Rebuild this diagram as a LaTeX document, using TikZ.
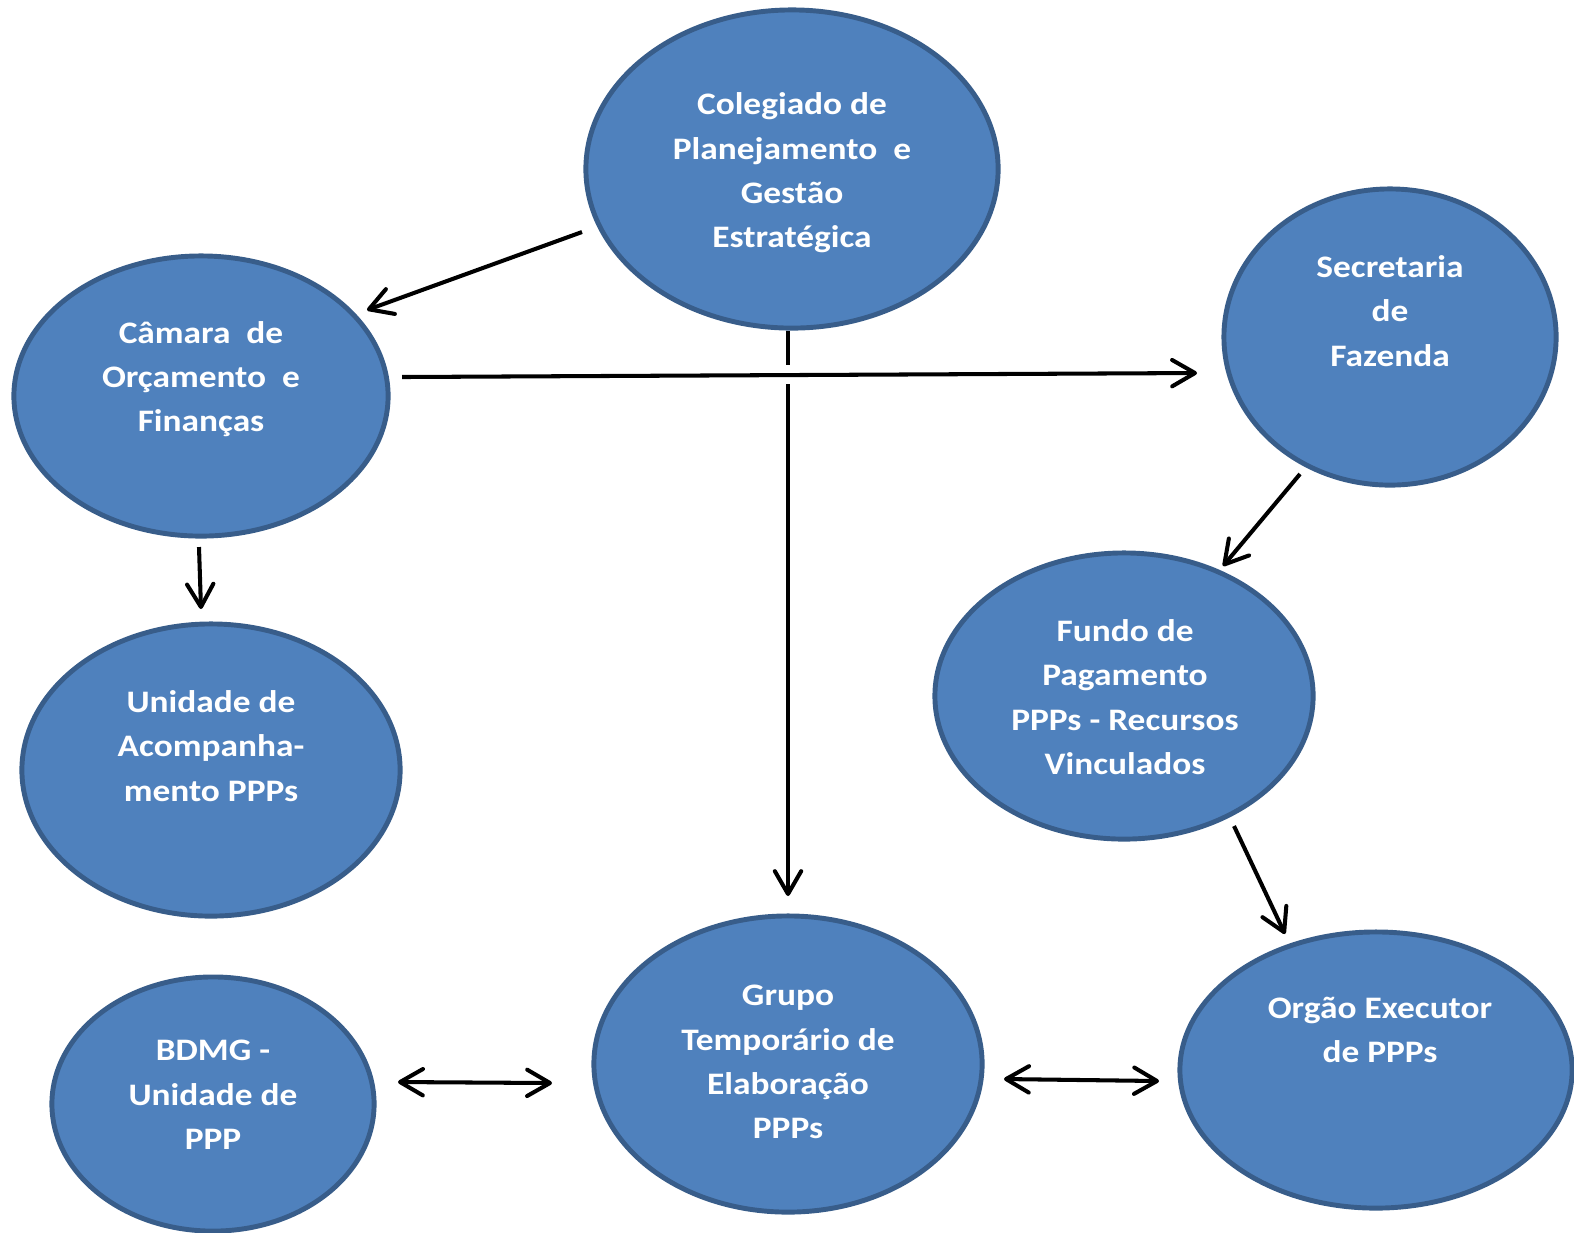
\documentclass[tikz,border=0pt]{standalone}
\usepackage{fontspec}
\setmainfont{Carlito}[FakeStretch=1.13]
\usetikzlibrary{calc,positioning,shapes.geometric,arrows.meta}
\definecolor{ovalfill}{HTML}{4F81BD}
\definecolor{ovaledge}{HTML}{385D8A}

\begin{document}
\begin{tikzpicture}[x=0.01cm, y=-0.01cm,
  oval/.style={ellipse,draw=ovaledge,fill=ovalfill,line width=1.4pt,inner sep=0pt},
  txt/.style={text=white,font=\fontsize{8.9}{12.6}\selectfont\bfseries,align=center,inner sep=0pt},
  barb/.tip={Straight Barb[length=6.5pt,width=7.5pt,round]},
  arr/.style={line width=1.15pt,-barb},
  dbl/.style={line width=1.15pt,barb-barb}]
\useasboundingbox (0,0) rectangle (1574,1232);

% ovals
\node[oval,minimum width=4.12cm,minimum height=3.18cm] (col) at (792,169) {};
\node[oval,minimum width=3.74cm,minimum height=2.80cm] (cam) at (201,396) {};
\node[oval,minimum width=3.32cm,minimum height=2.96cm] (sec) at (1390,337) {};
\node[oval,minimum width=3.78cm,minimum height=2.92cm] (uni) at (211,770) {};
\node[oval,minimum width=3.78cm,minimum height=2.86cm] (fun) at (1124,696) {};
\node[oval,minimum width=3.88cm,minimum height=2.96cm] (gru) at (788,1064) {};
\node[oval,minimum width=3.22cm,minimum height=2.54cm] (bdm) at (213,1104) {};
\node[oval,minimum width=3.92cm,minimum height=2.76cm] (org) at (1376,1070) {};

% texts
\node[txt] (coltxt) at ($(col)+(0,4)$) {Colegiado de\\Planejamento\ \ e\\Gestão\\Estratégica};
\node[txt] (camtxt) at ($(cam)+(0,-17)$) {Câmara\ \ de\\Orçamento\ \ e\\Finanças};
\node[txt] (sectxt) at ($(sec)+(0,-26)$) {Secretaria\\de\\Fazenda};
\node[txt] (unitxt) at ($(uni)+(0,-24)$) {Unidade de\\Acompanha-\\mento PPPs};
\node[txt] (funtxt) at ($(fun)+(1,1)$) {Fundo de\\Pagamento\\PPPs - Recursos\\Vinculados};
\node[txt] (grutxt) at ($(gru)+(0,-2)$) {Grupo\\Temporário de\\Elaboração\\PPPs};
\node[txt] (bdmtxt) at ($(bdm)+(0,-9)$) {BDMG -\\Unidade de\\PPP};
\node[txt] (orgtxt) at ($(org)+(4,-40)$) {Orgão Executor\\de PPPs};

% connectors
\draw[arr] ($(col)+(-210,63)$) -- ($(cam)+(166,-86)$);
\draw[arr] ($(cam)+(201,-19)$) -- ($(sec)+(-193,36)$);
\draw[line width=1.15pt] ($(col)+(-4,162)$) -- ($(col)+(-4,196)$);
\draw[arr] ($(gru)+(0,-680)$) -- ($(gru)+(0,-168)$);
\draw[arr] ($(cam)+(-2,151)$) -- ($(uni)+(-10,-161)$);
\draw[arr] ($(sec)+(-90,137)$) -- ($(fun)+(99,-130)$);
\draw[arr] ($(fun)+(110,130)$) -- ($(org)+(-91,-136)$);
\draw[dbl] ($(bdm)+(185,-22)$) -- ($(gru)+(-236,19)$);
\draw[dbl] ($(gru)+(216,15)$) -- ($(org)+(-217,11)$);
\end{tikzpicture}
\end{document}
